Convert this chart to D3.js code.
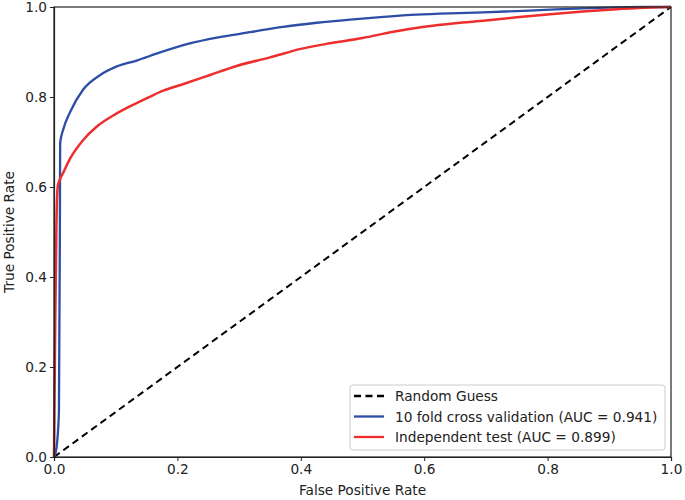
<!DOCTYPE html>
<html><head><meta charset="utf-8">
<script src="https://cdn.jsdelivr.net/npm/d3@7"></script>
<style>body{margin:0;background:#fff}svg{display:block}text{font-family:"DejaVu Sans",sans-serif;fill:#222}</style>
</head><body>
<svg id="c" width="685" height="500"></svg>
<script>
const cvFpr = [0, 0.004, 0.008, 0.0095, 0.01, 0.015, 0.026, 0.047, 0.075, 0.102, 0.134, 0.172, 0.22, 0.264, 0.318, 0.371, 0.426, 0.48, 0.534, 0.588, 0.642, 0.696, 0.75, 0.804, 0.857, 0.91, 0.96, 1.0];
const cvTpr = [0, 0.02, 0.1, 0.5, 0.698, 0.728, 0.766, 0.816, 0.849, 0.868, 0.881, 0.899, 0.919, 0.932, 0.944, 0.956, 0.965, 0.972, 0.978, 0.983, 0.986, 0.988, 0.991, 0.994, 0.997, 0.999, 1.0, 1.0];
const itFpr = [0, 0.002, 0.004, 0.006, 0.009, 0.015, 0.026, 0.047, 0.069, 0.096, 0.123, 0.156, 0.177, 0.21, 0.253, 0.296, 0.35, 0.4, 0.45, 0.5, 0.55, 0.6, 0.65, 0.7, 0.75, 0.804, 0.857, 0.912, 0.966, 1.0];
const itTpr = [0, 0.3, 0.52, 0.6, 0.615, 0.632, 0.663, 0.704, 0.734, 0.759, 0.779, 0.801, 0.814, 0.829, 0.849, 0.869, 0.888, 0.907, 0.92, 0.931, 0.945, 0.956, 0.964, 0.97, 0.977, 0.984, 0.99, 0.995, 0.999, 1.0];
const tickVals = [0, 0.2, 0.4, 0.6, 0.8, 1.0];
const legendLabels = ["Random Guess", "10 fold cross validation (AUC = 0.941)", "Independent test (AUC = 0.899)"];
const colors = ["#000000", "#2d4ea6", "#ee2e2e"];

const FS = 13.7;
const svg = d3.select("#c");
const L = 54, R = 671, T = 7, B = 457;
const x = d3.scaleLinear().domain([0,1]).range([L,R]);
const y = d3.scaleLinear().domain([0,1]).range([B,T]);

const line = d3.line().x(d=>x(d[0])).y(d=>y(d[1]));
const sline = d3.line().x(d=>x(d[0])).y(d=>y(d[1])).curve(d3.curveMonotoneX);

svg.append("path").datum([[0,0],[1,1]]).attr("d", line)
  .attr("fill","none").attr("stroke",colors[0]).attr("stroke-width",2).attr("stroke-dasharray","7,4.5");
svg.append("path").datum(cvFpr.map((v,i)=>[v,cvTpr[i]])).attr("d", sline)
  .attr("fill","none").attr("stroke",colors[1]).attr("stroke-width",2.3).attr("stroke-linejoin","round");
svg.append("path").datum(itFpr.map((v,i)=>[v,itTpr[i]])).attr("d", sline)
  .attr("fill","none").attr("stroke",colors[2]).attr("stroke-width",2.5).attr("stroke-linejoin","round");

// frame
svg.append("rect").attr("x",L).attr("y",T).attr("width",R-L).attr("height",B-T)
  .attr("fill","none").attr("stroke","#222").attr("stroke-width",1.2);

const xa = svg.append("g").attr("transform",`translate(0,${B})`)
  .call(d3.axisBottom(x).tickValues(tickVals).tickFormat(d3.format(".1f")).tickSize(4).tickPadding(3));
const ya = svg.append("g").attr("transform",`translate(${L},0)`)
  .call(d3.axisLeft(y).tickValues(tickVals).tickFormat(d3.format(".1f")).tickSize(4).tickPadding(3));
[xa,ya].forEach(g=>{
  g.select(".domain").attr("stroke","#222").attr("stroke-width",1.2);
  g.selectAll(".tick line").attr("stroke","#222");
  g.selectAll(".tick text").attr("font-size",FS).attr("font-family","DejaVu Sans").attr("fill","#222");
});

svg.append("text").attr("x",(L+R)/2).attr("y",495).attr("text-anchor","middle").attr("font-size",FS).text("False Positive Rate");
svg.append("text").attr("transform",`translate(13.5,${(T+B)/2}) rotate(-90)`).attr("text-anchor","middle").attr("font-size",FS).text("True Positive Rate");

// legend
const lg = svg.append("g");
lg.append("rect").attr("x",350).attr("y",385).attr("width",315).attr("height",65).attr("rx",3)
  .attr("fill","#fff").attr("fill-opacity",0.85).attr("stroke","#ccc");
legendLabels.forEach((t,i)=>{
  const yy = 396 + i*20.5;
  lg.append("line").attr("x1",354).attr("x2",384).attr("y1",yy).attr("y2",yy)
    .attr("stroke",colors[i]).attr("stroke-width",2.3).attr("stroke-dasharray", i===0?"7,4.5":null);
  lg.append("text").attr("x",395).attr("y",yy+5).attr("font-size",FS).text(t);
});
</script>
</body></html>
